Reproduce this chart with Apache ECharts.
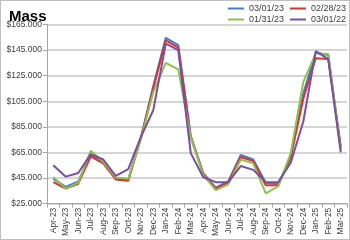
<!DOCTYPE html>
<html><head><meta charset="utf-8">
<script src="https://cdn.jsdelivr.net/npm/echarts@6/dist/echarts.min.js"></script>
<style>html,body{margin:0;padding:0;background:#fff}#c{width:350px;height:240px;box-sizing:border-box;border:1px solid #bfbfbf}</style>
</head><body><div id="c"></div>
<script>
var categories = ['Apr-23','May-23','Jun-23','Jul-23','Aug-23','Sep-23','Oct-23','Nov-23','Dec-23','Jan-24','Feb-24','Mar-24','Apr-24','May-24','Jun-24','Jul-24','Aug-24','Sep-24','Oct-24','Nov-24','Dec-24','Jan-25','Feb-25','Mar-25'];
var seriesNames = ['03/01/23','02/28/23','01/31/23','03/01/22'];
var s030123 = [44400,38100,42400,63300,58200,44600,43900,76000,117000,154600,148800,78000,48900,37600,42400,63000,59500,41400,40600,60700,111000,143000,141200,68000];
var s022823 = [41800,36800,40600,62000,56500,43900,42900,76000,115000,152500,147000,77000,48000,36800,41400,61500,58200,39300,39300,62000,107000,138700,138000,70000];
var s013123 = [45600,36800,41400,66300,57700,45400,44400,75000,112000,135000,129900,77000,47400,35600,40100,59500,56500,33100,38600,64500,119900,142500,142000,67000];
var s030122 = [55000,46100,48900,63700,59500,46700,51900,77000,98000,150000,145000,64500,45600,41800,41800,54400,51400,41800,41800,57000,89000,144200,138000,65000];
var yMin = 25000, yMax = 165000, yStep = 20000;

var colors = ['#3b7dd8','#e0302a','#8cc34a','#7b4ea6'];
var data = [s030123, s022823, s013123, s030122];
function fmt(v){ return '$' + String(v).replace(/\B(?=(\d{3})+(?!\d))/g,'.'); }
var chart = echarts.init(document.getElementById('c'), null, {renderer:'canvas'});
var series = seriesNames.map(function(n,i){
  return {name:n, type:'line', data:data[i], symbol:'none', smooth:false,
    lineStyle:{width:2, color:colors[i]}, itemStyle:{color:colors[i]}, z: 2+i};
});
var ff = 'Liberation Sans, Arial, sans-serif';
function mkLegend(names, top){
  return {type:'plain', orient:'horizontal', data:names, right:3, top:top,
    itemWidth:16, itemHeight:2, itemGap:6, padding:0,
    icon:'rect',
    textStyle:{fontSize:9, color:'#404040', fontFamily:ff}};
}
chart.setOption({
  animation:false,
  title:{text:'Mass', left:3, top:3, textStyle:{fontSize:15, fontWeight:'bold', color:'#000', fontFamily:ff}},
  legend:[ mkLegend([seriesNames[0],seriesNames[1]], 3), mkLegend([seriesNames[2],seriesNames[3]], 14) ],
  grid:{left:46, right:2, top:23.5, bottom:31, containLabel:false},
  xAxis:{type:'category', data:categories, boundaryGap:true,
    axisLine:{lineStyle:{color:'#a6a6a6', width:1}},
    axisTick:{show:true, alignWithLabel:false, length:4, lineStyle:{color:'#a6a6a6'}},
    axisLabel:{rotate:90, interval:0, fontSize:8.5, color:'#404040', margin:4, fontFamily:ff},
    splitLine:{show:false}},
  yAxis:{type:'value', min:yMin, max:yMax, interval:yStep,
    axisLine:{show:true, lineStyle:{color:'#a6a6a6'}},
    axisTick:{show:true, length:4, lineStyle:{color:'#a6a6a6'}},
    axisLabel:{formatter:fmt, fontSize:8.5, color:'#404040', margin:5, fontFamily:ff},
    splitLine:{lineStyle:{color:'#c8c8c8', width:1.5}}},
  series:series
});
</script></body></html>
